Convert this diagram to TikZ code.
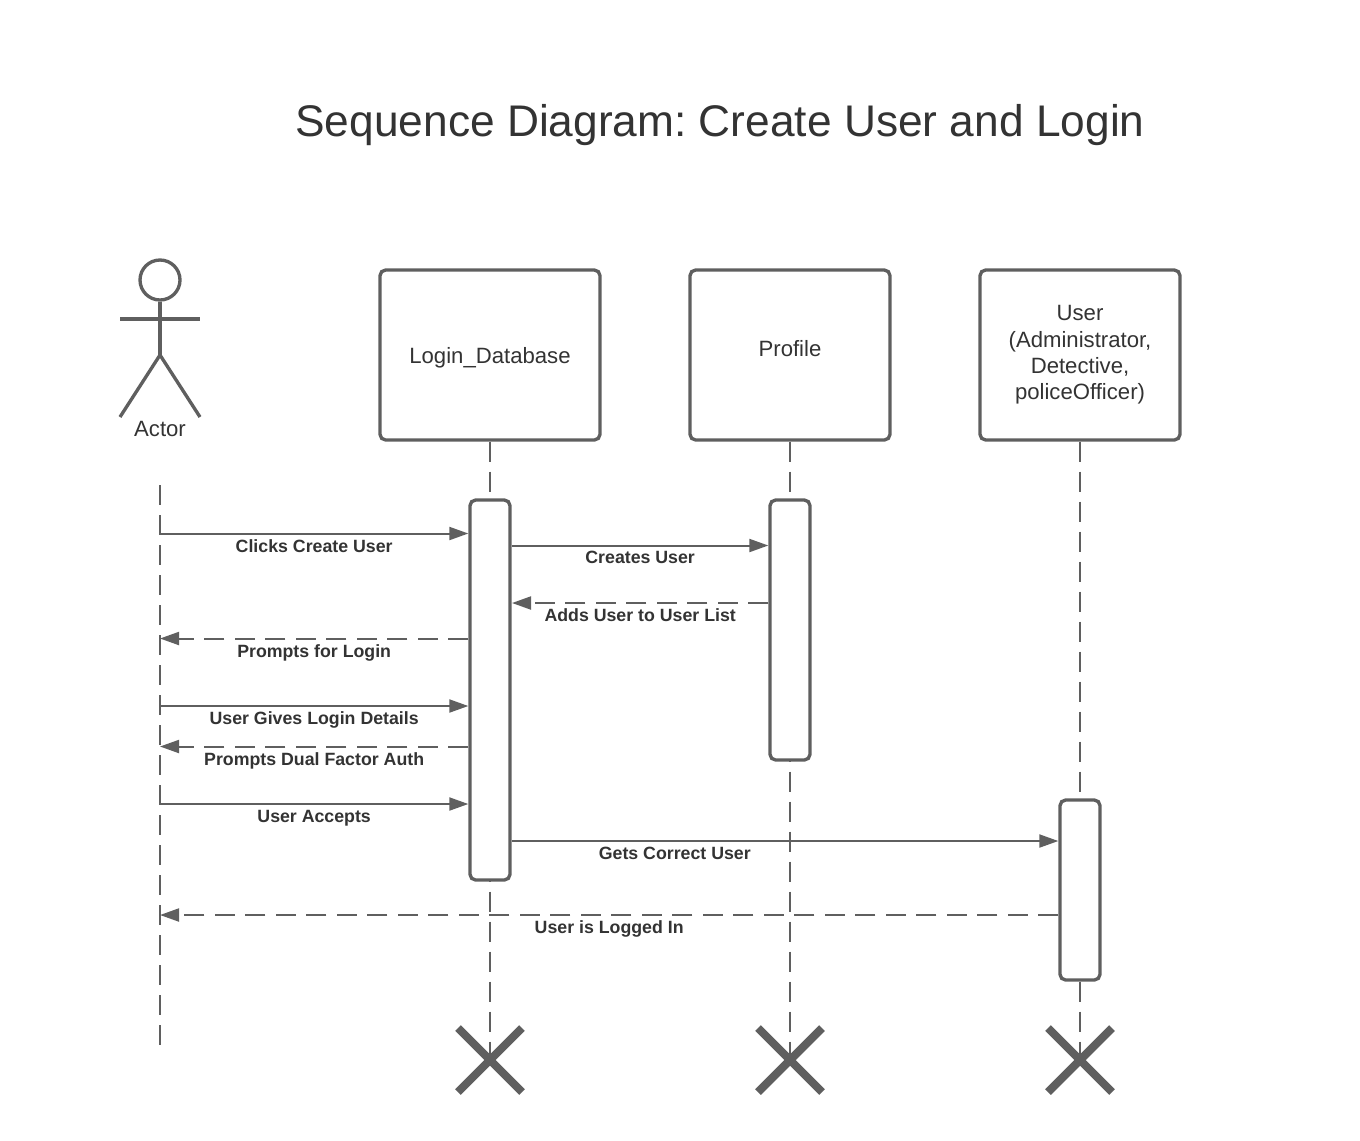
\documentclass[tikz,border=0pt]{standalone}
\usepackage{fontspec}
\setmainfont{Liberation Sans}
\usetikzlibrary{positioning,calc,arrows.meta}
\definecolor{linegray}{RGB}{95,95,95}
\definecolor{textgray}{RGB}{51,51,51}
\frenchspacing

\begin{document}
\begin{tikzpicture}[
    objbox/.style={draw=linegray, line width=0.95pt, rounded corners=1.6pt, fill=white, minimum height=1.7cm, align=center, font=\fontsize{6.3}{7.5}\selectfont, text=textgray, inner sep=0pt},
    bar/.style={draw=linegray, line width=0.95pt, rounded corners=1.6pt, fill=white, minimum width=0.4cm, inner sep=0pt},
    lifeline/.style={draw=linegray, line width=0.57pt, dash pattern=on 0.2cm off 0.1cm},
    msg/.style={draw=linegray, line width=0.57pt, -{Triangle[length=0.19cm,width=0.13cm,fill=linegray]}},
    reply/.style={msg, dash pattern=on 0.2cm off 0.105cm},
    msglabel/.style={font=\fontsize{5.05}{6}\selectfont\bfseries, text=textgray, inner sep=0pt, below=0.05cm},
    person/.style={draw=linegray, line width=0.95pt},
    killmark/.style={draw=linegray, line width=2.3pt}
]
\useasboundingbox (0,0) rectangle (13.6,-11.4);

% Title
\node[font=\fontsize{12.6}{15}\selectfont, text=textgray, inner sep=0pt] (title) at (7.2,-1.25) {Sequence Diagram: Create User and Login};

% Object boxes
\node[objbox, minimum width=2.2cm] (db) at (4.9,-3.55) {};
\node[objbox, minimum width=2cm] (profile) at (7.9,-3.55) {};
\node[objbox, minimum width=2cm] (user) at (10.8,-3.55) {User\\(Administrator,\\Detective,\\policeOfficer)};
\node[font=\fontsize{6.3}{7.5}\selectfont, text=textgray, inner sep=0pt, yshift=-0.03cm] (dbtext) at (db) {Login\_Database};
\node[font=\fontsize{6.3}{7.5}\selectfont, text=textgray, inner sep=0pt, yshift=0.06cm] (profiletext) at (profile) {Profile};

% Actor
\node[circle, person, fill=white, minimum size=0.4cm, inner sep=0pt] (head) at (1.6,-2.8) {};
\coordinate (hip) at (1.6,-3.55);
\coordinate (armL) at (1.2,-3.19);
\coordinate (armR) at (2,-3.19);
\coordinate (footL) at (1.2,-4.17);
\coordinate (footR) at (2,-4.17);
\draw[person] (head) -- (hip);
\draw[person] (armL) -- (armR);
\draw[person] (footL) -- (hip) -- (footR);
\node[font=\fontsize{6.3}{7.5}\selectfont, text=textgray, inner sep=0pt] (actor) at (1.6,-4.29) {Actor};

% Ends of the lifelines
\coordinate (actortop) at (1.6,-4.85);
\coordinate (actorend) at (1.6,-10.45);
\coordinate (dbend) at (4.9,-10.6);
\coordinate (profileend) at (7.9,-10.6);
\coordinate (userend) at (10.8,-10.6);

% Lifelines
\draw[lifeline] (actortop) -- (actorend);
\draw[lifeline] (db.south) -- (dbend);
\draw[lifeline] (profile.south) -- (profileend);
\draw[lifeline] (user.south) -- (userend);

% Activation bars
\node[bar, minimum height=3.8cm] (dbbar) at (4.9,-6.9) {};
\node[bar, minimum height=2.6cm] (profilebar) at (7.9,-6.3) {};
\node[bar, minimum height=1.8cm] (userbar) at (10.8,-8.9) {};

% Heights of the messages on the actor side
\coordinate (m1) at (1.6,-5.335);
\coordinate (m3) at (1.6,-6.385);
\coordinate (m4) at (1.6,-7.06);
\coordinate (m5) at (1.6,-7.465);
\coordinate (m6) at (1.6,-8.04);
\coordinate (m8) at (1.6,-9.15);

% Actor to database
\draw[msg] (m1) -- (m1 -| dbbar.west) node[msglabel, midway] {Clicks Create User};
\draw[msg] (m4) -- (m4 -| dbbar.west) node[msglabel, midway] {User Gives Login Details};
\draw[msg] (m6) -- (m6 -| dbbar.west) node[msglabel, midway] {User Accepts};

% Database back to actor
\draw[reply] (m3 -| dbbar.west) -- (m3) node[msglabel, midway] {Prompts for Login};
\draw[reply] (m5 -| dbbar.west) -- (m5) node[msglabel, midway] {Prompts Dual Factor Auth};

% Database and profile
\coordinate (m2) at (5.12,-5.455);
\coordinate (m2b) at (5.12,-6.03);
\draw[msg] (m2) -- (m2 -| profilebar.west) node[msglabel, midway] {Creates User};
\draw[reply] (m2b -| profilebar.west) -- (m2b) node[msglabel, midway] {Adds User to User List};

% Database to user
\coordinate (m7) at (5.12,-8.41);
\draw[msg] (m7) -- (m7 -| userbar.west) node[msglabel, pos=0.298] {Gets Correct User};

% User back to actor
\draw[reply] (m8 -| userbar.west) -- (m8) node[msglabel, midway] {User is Logged In};

% Destruction marks
\foreach \n in {dbend,profileend,userend}{
  \draw[killmark] ($(\n)+(-0.32,0.32)$) -- ($(\n)+(0.32,-0.32)$);
  \draw[killmark] ($(\n)+(-0.32,-0.32)$) -- ($(\n)+(0.32,0.32)$);
}

\end{tikzpicture}
\end{document}
